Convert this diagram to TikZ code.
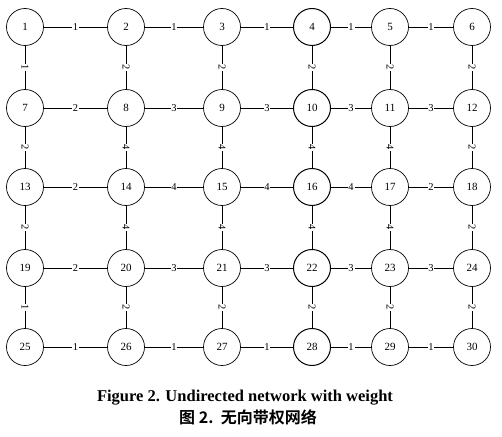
\documentclass[tikz,border=0pt]{standalone}
\usepackage{fontspec}
\setmainfont{Liberation Serif}
\newfontfamily\cjkfont{Noto Sans CJK SC}[BoldFont={Noto Sans CJK SC Bold}]
\usetikzlibrary{positioning, calc}

\begin{document}
\begin{tikzpicture}[
      x=1pt, y=-1pt,
      every node/.style={font=\fontsize{11}{13}\selectfont},
      vtx/.style={draw, circle, minimum size=37pt, inner sep=0pt, line width=0.7pt},
      wt/.style={fill=white, inner sep=0.8pt, font=\fontsize{10.5}{12}\selectfont},
      edge/.style={line width=0.7pt},
    ]
    \useasboundingbox (0,0) rectangle (502,436);

    % vertices, row by row
    \foreach \y [count=\r from 0] in {27,108,187,268,347} {
      \foreach \x [count=\c] in {25,126,222,312,390,472} {
        \pgfmathtruncatemacro\k{6*\r+\c}
        \pgfmathsetmacro\lw{\c==4 ? 1.0 : 0.7}
        \node[vtx, line width=\lw pt] (n\k) at (\x,\y) {\k};
      }
    }

    % horizontal weights
    \foreach \a/\b/\w in {1/2/1, 2/3/1, 3/4/1, 4/5/1, 5/6/1,
                          7/8/2, 8/9/3, 9/10/3, 10/11/3, 11/12/3,
                          13/14/2, 14/15/4, 15/16/4, 16/17/4, 17/18/2,
                          19/20/2, 20/21/3, 21/22/3, 22/23/3, 23/24/3,
                          25/26/1, 26/27/1, 27/28/1, 28/29/1, 29/30/1}
      \draw[edge] (n\a) -- node[wt] {\w} (n\b);

    % vertical weights
    \foreach \a/\b/\w in {1/7/1, 2/8/2, 3/9/2, 4/10/2, 5/11/2, 6/12/2,
                          7/13/2, 8/14/4, 9/15/4, 10/16/4, 11/17/4, 12/18/2,
                          13/19/2, 14/20/4, 15/21/4, 16/22/4, 17/23/4, 18/24/2,
                          19/25/1, 20/26/2, 21/27/2, 22/28/2, 23/29/2, 24/30/2}
      \draw[edge] (n\a) -- node[wt, sloped] {\w} (n\b);

    % caption
    \node[font=\fontsize{16.5}{18}\selectfont\bfseries, inner sep=0pt] (cap1) at (245,398)
      {Figure 2. Undirected network with weight};
    \node[font=\fontsize{16}{18}\selectfont\cjkfont\bfseries, inner sep=0pt] (cap2) at (248,417)
      {图~2.~~无向带权网络};
  \end{tikzpicture}
\end{document}
